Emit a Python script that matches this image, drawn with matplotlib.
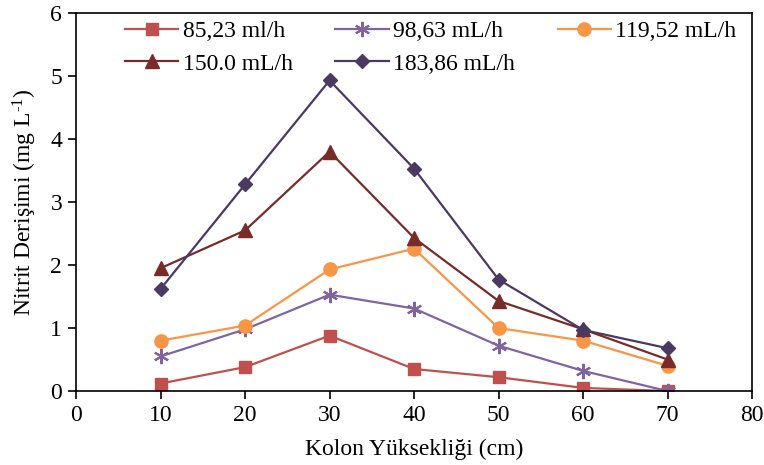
import matplotlib
matplotlib.use("Agg")
import matplotlib.pyplot as plt

plt.rcParams['font.family'] = ['Liberation Serif', 'DejaVu Serif']
plt.rcParams['mathtext.fontset'] = 'custom'
plt.rcParams['mathtext.rm'] = 'Liberation Serif'
plt.rcParams['mathtext.it'] = 'Liberation Serif:italic'

# Kolon yüksekliği (cm)
height = [10, 20, 30, 40, 50, 60, 70]

# Nitrit derişimi (mg/L) her debi için
s_85 = [0.12, 0.38, 0.88, 0.35, 0.22, 0.05, 0.0]
s_98 = [0.55, 0.98, 1.53, 1.31, 0.72, 0.32, 0.0]
s_119 = [0.80, 1.04, 1.93, 2.26, 1.00, 0.80, 0.40]
s_150 = [1.95, 2.55, 3.80, 2.43, 1.43, 0.98, 0.50]
s_183 = [1.62, 3.28, 4.93, 3.53, 1.77, 0.97, 0.68]

labels = ['85,23 ml/h', '98,63 mL/h', '119,52 mL/h', '150.0 mL/h', '183,86 mL/h']

fs = 17
fig = plt.figure(figsize=(7.64, 4.65), dpi=100)
ax = fig.add_axes([0.0995, 0.159, 0.885, 0.813])

h85, = ax.plot(height, s_85, color='#C0504D', marker='s', markersize=9, lw=1.6, label=labels[0])
h98, = ax.plot(height, s_98, color='#8064A2', marker=(6, 2, 0), markersize=11, mew=1.5, lw=1.6, label=labels[1])
h119, = ax.plot(height, s_119, color='#F79646', marker='o', markersize=9.5, lw=1.6, label=labels[2])
h150, = ax.plot(height, s_150, color='#772C2A', marker='^', markersize=9.5, lw=1.6, label=labels[3])
h183, = ax.plot(height, s_183, color='#4A3A63', marker='D', markersize=7, lw=1.6, label=labels[4])

ax.set_xlim(0, 80)
ax.set_ylim(0, 6)
ax.set_xticks(range(0, 81, 10))
ax.set_yticks(range(0, 7))
ax.tick_params(labelsize=fs, direction='out', length=6, width=1.2, pad=4)
for s in ax.spines.values():
    s.set_linewidth(1.2)

ax.set_xlabel('Kolon Yüksekliği (cm)', fontsize=fs, labelpad=9)
ax.set_ylabel(r'Nitrit Derişimi (mg L$^{\text{-1}}$)', fontsize=fs, labelpad=8)

# satır sırası için (matplotlib sütun sırasıyla doldurur)
order = [h85, h150, h98, h183, h119]
leg = fig.legend(order, [h.get_label() for h in order],
                 loc='upper left', bbox_to_anchor=(0.164, 0.955, 0.80, 0.0), mode='expand',
                 ncol=3, fontsize=fs, frameon=False, handlelength=2.25, handletextpad=0.2,
                 borderpad=0, labelspacing=0.45, borderaxespad=0)

fig.savefig('out.png', dpi=100)
